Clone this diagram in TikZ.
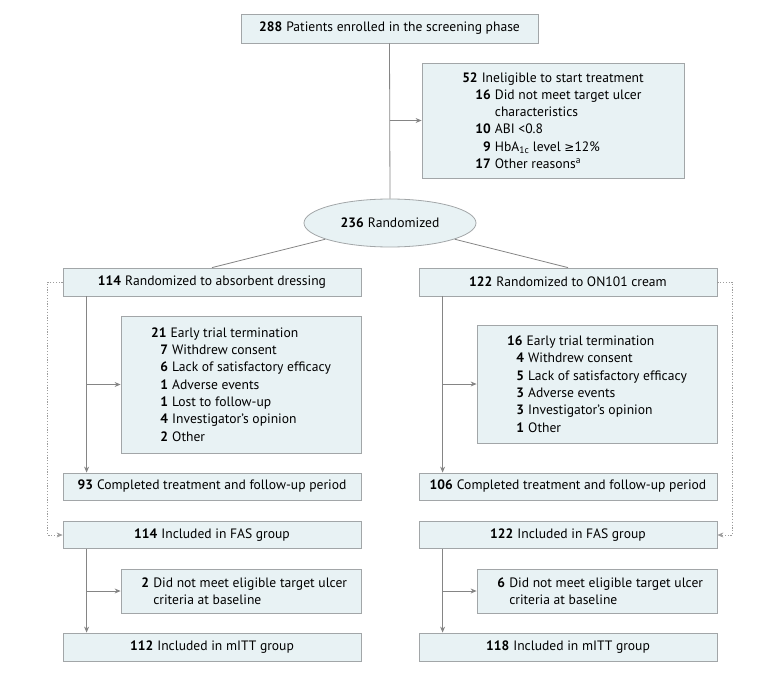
\documentclass[tikz,border=0pt]{standalone}
\usepackage{fontspec}
\setmainfont{PT Sans}
\newfontfamily\symfont{DejaVu Sans}
\usepackage{xcolor}
\usetikzlibrary{arrows.meta,shapes.geometric}

\definecolor{boxfill}{HTML}{E8F2F4}
\definecolor{boxline}{HTML}{A2A6A8}
\definecolor{flowline}{HTML}{858585}

% number column for the sub-items
\newcommand{\subn}[2]{\makebox[1.05em][r]{\textbf{#1}}\hspace{0.3em}#2}
\newcommand{\subc}[1]{\hspace{1.35em}#1}

\begin{document}
\begin{tikzpicture}[x=1pt, y=-1pt,
    every node/.style={font=\fontsize{13.6}{17.3}\selectfont},
    flowbox/.style={draw=boxline, fill=boxfill, line width=0.8pt, inner sep=0pt, align=left},
    flowline/.style={draw=flowline, line width=0.8pt},
    arr/.style={flowline, -{Stealth[length=6pt, width=5pt]}},
    dots/.style={draw=flowline!80, line width=0.6pt, dash pattern=on 1.2pt off 1.6pt, -{Stealth[length=6pt, width=5pt]}}]
    \useasboundingbox (0,0) rectangle (780,674);

    \node[flowbox, minimum width=297, minimum height=29] (enrol) at (389.5, 28.5) {\textbf{288}\hspace{0.3em}Patients enrolled in the screening phase};

    \node[flowbox, minimum width=262, minimum height=115] (inelig) at (553, 120.5) {%
        \textbf{52}\hspace{0.3em}Ineligible to start treatment\\
        \hspace{1.05em}\subn{16}{Did not meet target ulcer}\\
        \hspace{1.05em}\subc{characteristics}\\
        \hspace{1.05em}\subn{10}{ABI <0.8}\\
        \hspace{1.05em}\subn{9}{HbA\textsubscript{1c} level {\symfont\fontsize{12}{14}\selectfont ≥}12\%}\\
        \hspace{1.05em}\subn{17}{Other reasons\textsuperscript{a}}};

    \node[ellipse, draw=boxline, fill=boxfill, line width=0.8pt, inner sep=0pt, minimum width=172, minimum height=48] (rand) at (390, 223) {\textbf{236}\hspace{0.3em}Randomized};

    % left arm
    \node[flowbox, minimum width=298, minimum height=28] (armA) at (212, 282) {\textbf{114}\hspace{0.3em}Randomized to absorbent dressing};
    \node[flowbox, minimum width=240, minimum height=137] (termA) at (241, 384.5) {%
        \textbf{21}\hspace{0.3em}Early trial termination\\
        \hspace{0.2em}\subn{7}{Withdrew consent}\\
        \hspace{0.2em}\subn{6}{Lack of satisfactory efficacy}\\
        \hspace{0.2em}\subn{1}{Adverse events}\\
        \hspace{0.2em}\subn{1}{Lost to follow-up}\\
        \hspace{0.2em}\subn{4}{Investigator’s opinion}\\
        \hspace{0.2em}\subn{2}{Other}};
    \node[flowbox, minimum width=298, minimum height=27] (doneA) at (212, 486.5) {\textbf{93}\hspace{0.3em}Completed treatment and follow-up period};
    \node[flowbox, minimum width=298, minimum height=27] (fasA) at (212, 535) {\textbf{114}\hspace{0.3em}Included in FAS group};
    \node[flowbox, minimum width=240, minimum height=44] (exA) at (241, 591) {%
        \subn{2}{Did not meet eligible target ulcer}\\
        \subc{criteria at baseline}};
    \node[flowbox, minimum width=298, minimum height=28] (mittA) at (212, 647) {\textbf{112}\hspace{0.3em}Included in mITT group};

    % right arm
    \node[flowbox, minimum width=298, minimum height=28] (armB) at (568, 282) {\textbf{122}\hspace{0.3em}Randomized to ON101 cream};
    \node[flowbox, minimum width=240, minimum height=118] (termB) at (597, 384) {%
        \textbf{16}\hspace{0.3em}Early trial termination\\
        \hspace{0.2em}\subn{4}{Withdrew consent}\\
        \hspace{0.2em}\subn{5}{Lack of satisfactory efficacy}\\
        \hspace{0.2em}\subn{3}{Adverse events}\\
        \hspace{0.2em}\subn{3}{Investigator’s opinion}\\
        \hspace{0.2em}\subn{1}{Other}};
    \node[flowbox, minimum width=298, minimum height=27] (doneB) at (568, 486.5) {\textbf{106}\hspace{0.3em}Completed treatment and follow-up period};
    \node[flowbox, minimum width=298, minimum height=27] (fasB) at (568, 535) {\textbf{122}\hspace{0.3em}Included in FAS group};
    \node[flowbox, minimum width=240, minimum height=44] (exB) at (597, 591) {%
        \subn{6}{Did not meet eligible target ulcer}\\
        \subc{criteria at baseline}};
    \node[flowbox, minimum width=298, minimum height=28] (mittB) at (568, 647) {\textbf{118}\hspace{0.3em}Included in mITT group};

    % connectors
    \draw[flowline] (enrol.south) -- (rand.north);
    \draw[arr] (enrol.south |- inelig.west) -- (inelig.west);
    \draw[flowline] (rand) -- (armA.north);
    \draw[flowline] (rand) -- (armB.north);

    \foreach \arm/\term/\done in {armA/termA/doneA, armB/termB/doneB} {
        \draw[arr] ([xshift=24]\arm.south west) -- ([xshift=24]\done.north west);
        \draw[arr] ([xshift=24]\arm.south west |- \term.west) -- (\term.west);
    }
    \foreach \fas/\ex/\mitt in {fasA/exA/mittA, fasB/exB/mittB} {
        \draw[arr] ([xshift=24]\fas.south west) -- ([xshift=24]\mitt.north west);
        \draw[arr] ([xshift=24]\fas.south west |- \ex.west) -- (\ex.west);
    }

    \draw[dots] (armA.west) -- ([xshift=-15]armA.west) |- (fasA.west);
    \draw[dots] (armB.east) -- ([xshift=15]armB.east) |- (fasB.east);
\end{tikzpicture}
\end{document}
